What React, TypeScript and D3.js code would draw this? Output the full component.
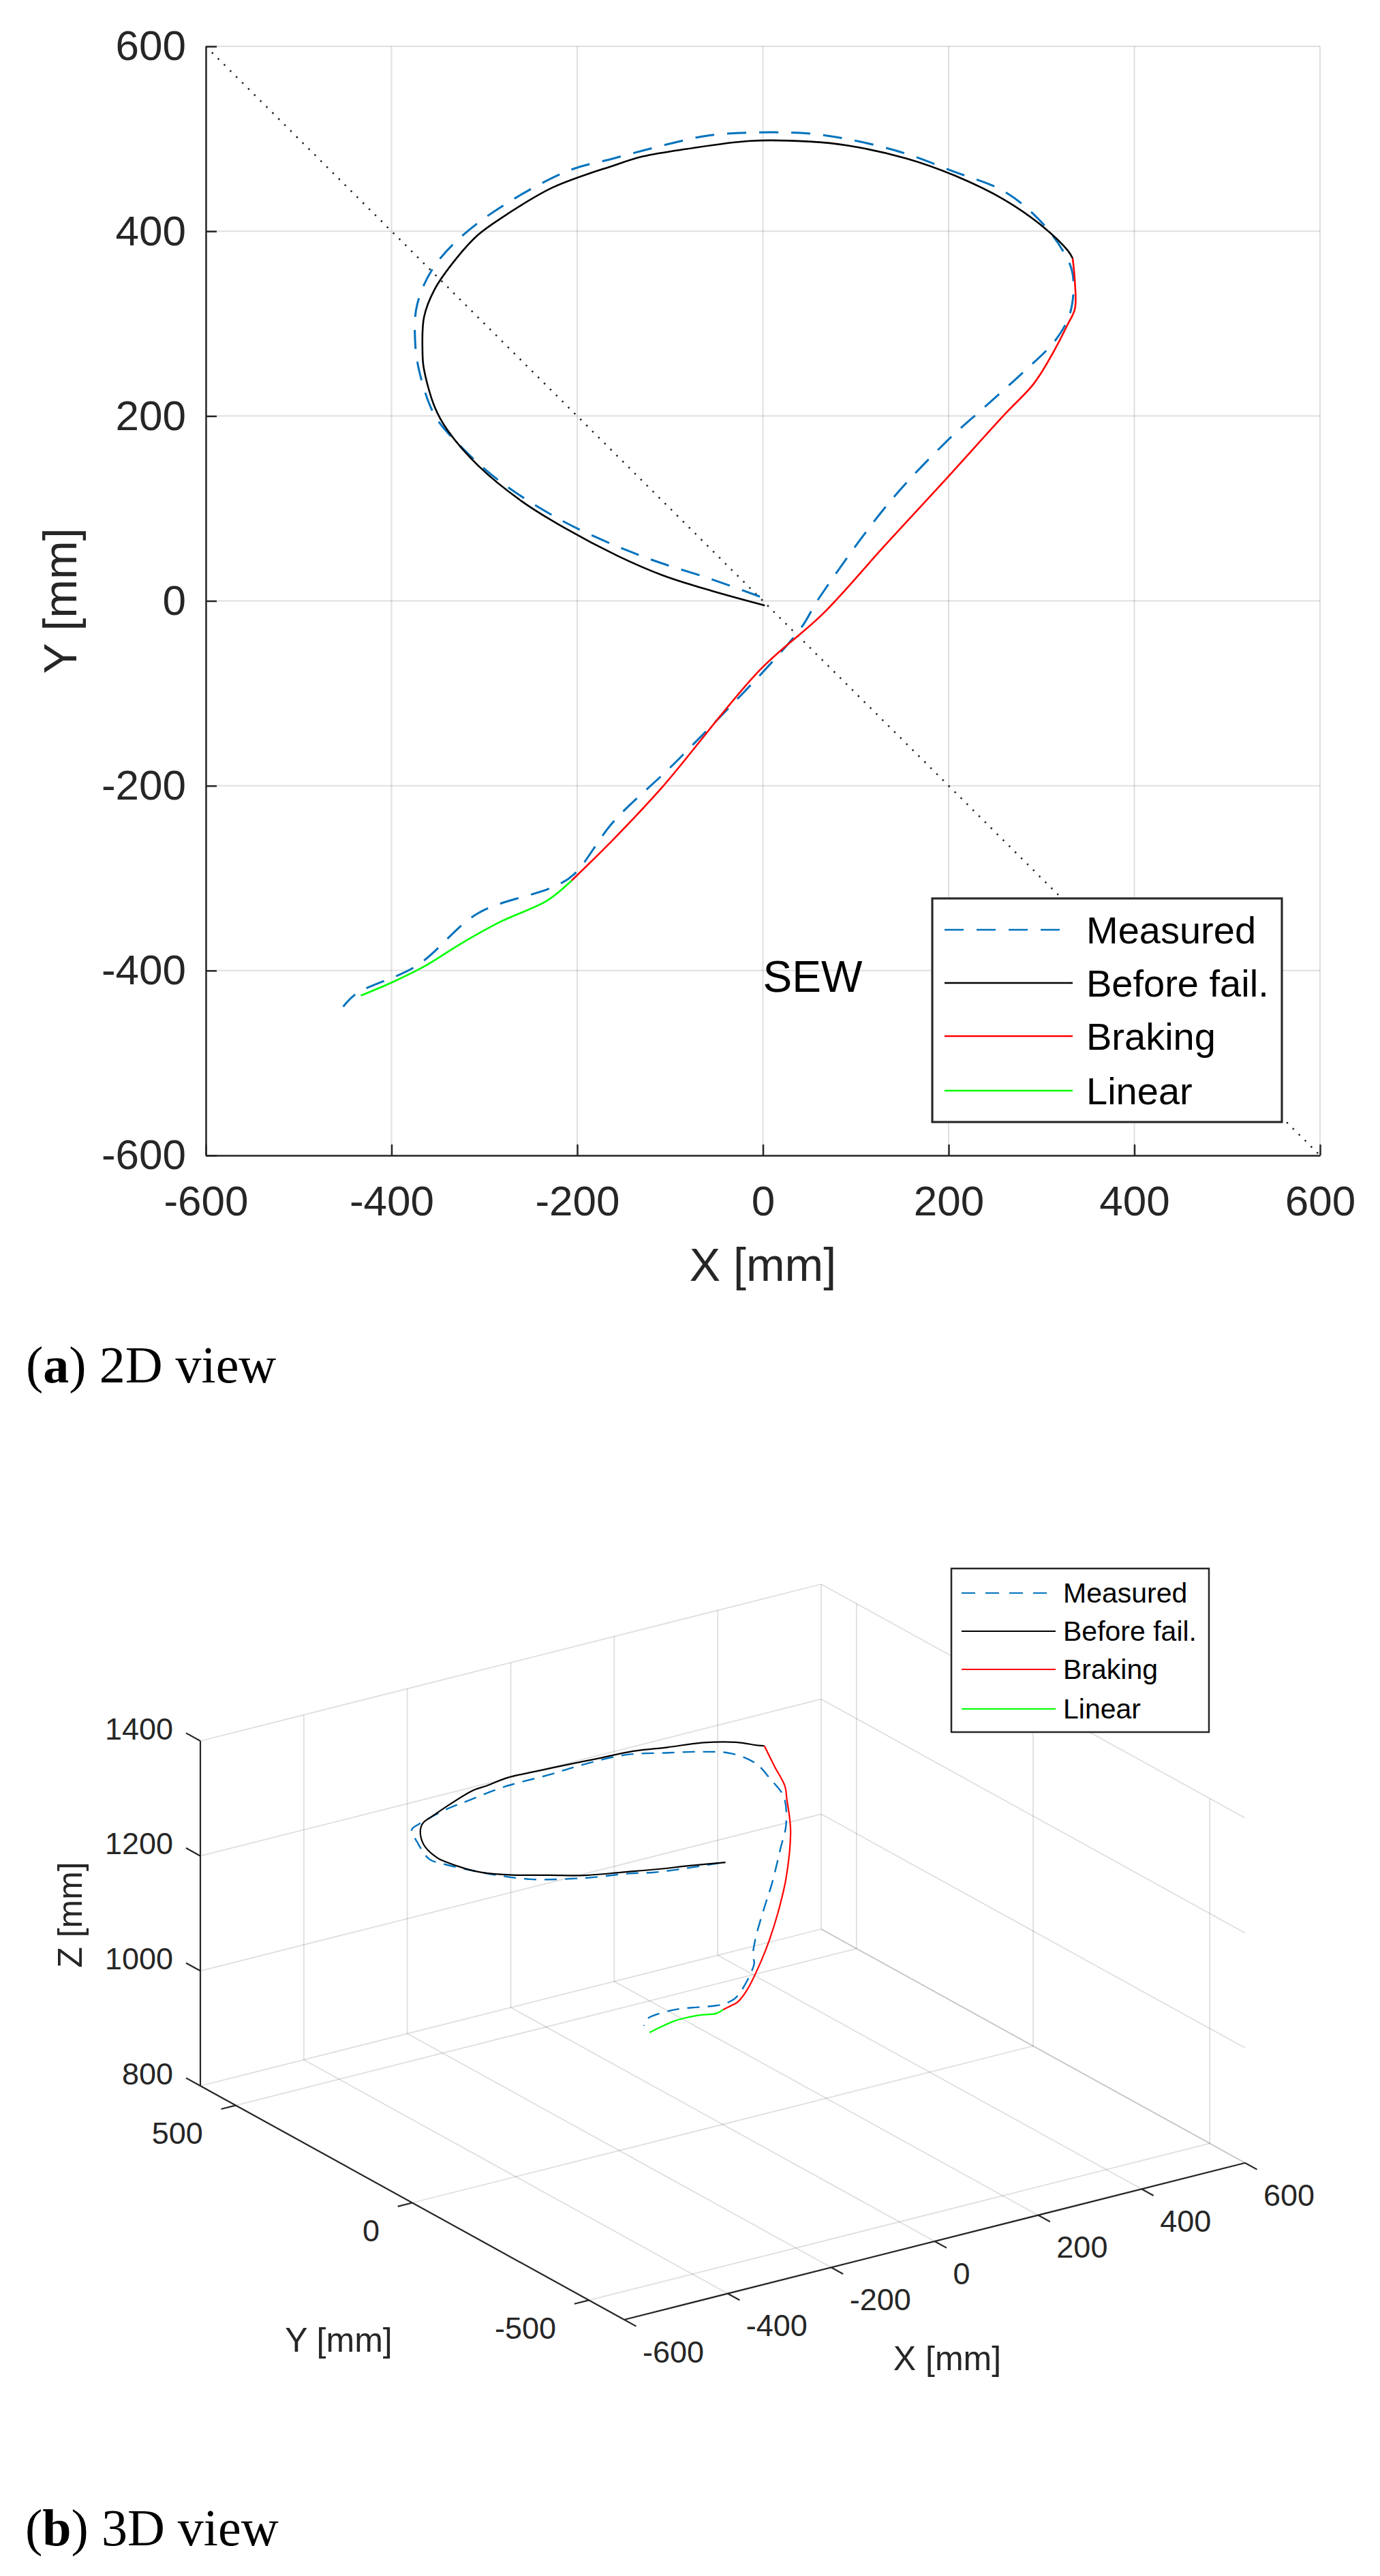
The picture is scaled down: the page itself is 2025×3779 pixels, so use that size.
import React, { useEffect, useRef } from 'react';
import * as d3 from 'd3';

const FONT = 'Liberation Sans, Arial, Helvetica, sans-serif';
const SERIF = 'Liberation Serif, Times New Roman, serif';
const AXIS_COLOR = '#262626';

// trajectories [mm]
// X/Y are shared by the top view and the 3D view, Z is only used in 3D
const measuredX = [-3.3, -55.8, -108.5, -143, -213, -283.4, -330, -353.6, -370, -374.6, -372.5, -353.6, -306.8, -213, -161, -87.7, -55.8, 12.6, 65, 144, 207, 260, 296.9, 323, 333.6, 331, 315, 281, 239, 197, 134, 60, 39, -91.5, -161, -203.6, -227, -306.8, -372.5, -438, -452];
const measuredY = [4.6, 23.6, 40.6, 53.3, 85, 129.5, 171.8, 201, 248, 282, 320, 362.5, 409, 464, 478.7, 497.7, 504, 507, 504, 487, 464, 443, 413, 379, 353.7, 312, 282, 248, 210, 171.8, 104, 2.4, -32, -172, -239, -296, -310, -338, -394.5, -425, -439];
const measuredZ = [1254, 1250, 1249, 1251, 1248, 1247, 1252, 1255, 1253, 1251, 1268, 1270, 1254, 1241, 1239, 1237, 1235, 1234, 1238, 1245, 1242, 1239, 1238, 1226, 1205, 1189, 1154, 1132, 1095, 1072, 1056, 1078, 1082, 1100, 1127, 1155, 1163, 1186, 1216, 1226, 1223];

const beforeX = [2, -55.8, -108.5, -157, -213, -260, -306.8, -339.6, -353.6, -365.3, -366.6, -365, -353.6, -330, -306.8, -283.6, -227, -161, -128.8, -82, -13.6, 49.5, 91.4, 154.5, 207, 260, 302, 328.4, 333.6];
const beforeY = [-5, 11, 27.9, 49, 78.6, 108, 146.5, 184.5, 210, 252, 269, 307, 337, 370.7, 396, 413, 447, 471, 481, 489, 497.7, 497, 492.7, 478.7, 460, 434, 404.6, 379, 370.6];
const beforeZ = [1257, 1259, 1259, 1258, 1255, 1256, 1254, 1253, 1254, 1255, 1255, 1261, 1267, 1267, 1262, 1258, 1254, 1258, 1255, 1256, 1250, 1248, 1248, 1252, 1253, 1258, 1259, 1256, 1257];

const brakingX = [333.6, 336, 336, 328, 312.7, 291.7, 260, 197, 131, 65, -3.3, -108.5, -161, -206];
const brakingY = [370.6, 345, 316, 298.7, 269, 235, 201.4, 131.6, 59.6, -13.6, -74.8, -201.6, -258, -302.6];
const brakingZ = [1257, 1229, 1205, 1189, 1173, 1160, 1101, 1080, 1071, 1074, 1061, 1106, 1130, 1149];

const linearX = [-206, -232, -283.4, -325.5, -362.9, -400, -433];
const linearY = [-302.6, -324, -347.5, -371, -394.5, -413, -427];
const linearZ = [1149, 1156, 1172, 1185, 1196, 1201, 1203];

// dotted SEW line in the top view
const sewX = [-600, 600];
const sewY = [600, -600];

const ticks2D = [-600, -400, -200, 0, 200, 400, 600];
const ticksX3D = [-600, -400, -200, 0, 200, 400, 600];
const ticksY3D = [-500, 0, 500];
const ticksZ3D = [800, 1000, 1200, 1400];

const seriesNames = ['Measured', 'Before fail.', 'Braking', 'Linear'];
const seriesColors = ['#0072BD', '#000000', '#FF0000', '#00FF00'];

const zip = (xs, ys, zs) => xs.map((x, i) => ({ x, y: ys[i], z: zs[i] }));

const series = [
  { name: seriesNames[0], color: seriesColors[0], dashed: true, pts: zip(measuredX, measuredY, measuredZ) },
  { name: seriesNames[1], color: seriesColors[1], dashed: false, pts: zip(beforeX, beforeY, beforeZ) },
  { name: seriesNames[2], color: seriesColors[2], dashed: false, pts: zip(brakingX, brakingY, brakingZ) },
  { name: seriesNames[3], color: seriesColors[3], dashed: false, pts: zip(linearX, linearY, linearZ) },
];

function drawLegend(g, box, rowYs, lx1, lx2, tx, fs, dash, sw) {
  const lg = g.append('g');
  lg.append('rect')
    .attr('x', box.x).attr('y', box.y).attr('width', box.w).attr('height', box.h)
    .attr('fill', '#fff').attr('stroke', AXIS_COLOR).attr('stroke-width', sw + 0.5);
  series.forEach((s, i) => {
    lg.append('line')
      .attr('x1', lx1).attr('x2', lx2).attr('y1', rowYs[i]).attr('y2', rowYs[i])
      .attr('stroke', s.color).attr('stroke-width', sw)
      .attr('stroke-dasharray', s.dashed ? dash : null);
    lg.append('text')
      .attr('x', tx).attr('y', rowYs[i]).attr('dy', '0.35em')
      .attr('font-family', FONT).attr('font-size', fs).attr('fill', '#000')
      .text(s.name);
  });
}

function caption(svg, x, y, letter, rest) {
  const t = svg.append('text').attr('x', x).attr('y', y)
    .attr('font-family', SERIF).attr('font-size', 76).attr('fill', '#000');
  t.append('tspan').text('(');
  t.append('tspan').attr('font-weight', 'bold').text(letter);
  t.append('tspan').text(')');
  t.append('tspan').text(' ' + rest);
}

function draw2D(svg) {
  const x = d3.scaleLinear().domain([-600, 600]).range([302, 1937]);
  const y = d3.scaleLinear().domain([-600, 600]).range([1695, 68]);
  const g = svg.append('g');

  // grid
  const grid = g.append('g').attr('stroke', AXIS_COLOR).attr('stroke-opacity', 0.15).attr('stroke-width', 2);
  grid.selectAll('.gx').data(ticks2D).join('line')
    .attr('x1', d => x(d)).attr('x2', d => x(d)).attr('y1', y(-600)).attr('y2', y(600));
  grid.selectAll('.gy').data(ticks2D).join('line')
    .attr('y1', d => y(d)).attr('y2', d => y(d)).attr('x1', x(-600)).attr('x2', x(600));

  g.append('line')
    .attr('x1', x(sewX[0])).attr('y1', y(sewY[0])).attr('x2', x(sewX[1])).attr('y2', y(sewY[1]))
    .attr('stroke', '#222').attr('stroke-width', 2.5).attr('stroke-dasharray', '2.5 10');

  const line = d3.line().x(d => x(d.x)).y(d => y(d.y)).curve(d3.curveCatmullRom.alpha(0.5));
  series.forEach(s => {
    g.append('path').attr('d', line(s.pts)).attr('fill', 'none')
      .attr('stroke', s.color).attr('stroke-width', s.dashed ? 3 : 2.6)
      .attr('stroke-dasharray', s.dashed ? '28 19' : null);
  });

  const fmt = d => String(d);
  const yAxis = g.append('g').attr('transform', `translate(${x(-600)},0)`)
    .call(d3.axisLeft(y).tickValues(ticks2D).tickFormat(fmt).tickSize(-16).tickSizeOuter(0).tickPadding(29));
  const xAxis = g.append('g').attr('transform', `translate(0,${y(-600)})`)
    .call(d3.axisBottom(x).tickValues(ticks2D).tickFormat(fmt).tickSize(-16).tickSizeOuter(0).tickPadding(44));
  [xAxis, yAxis].forEach(a => {
    a.attr('font-size', 62).attr('font-family', FONT).attr('color', AXIS_COLOR);
    a.selectAll('.domain, .tick line').attr('stroke-width', 2.5);
  });

  g.append('text').attr('x', x(0)).attr('y', 1879).attr('text-anchor', 'middle')
    .attr('font-family', FONT).attr('font-size', 68).attr('fill', AXIS_COLOR).text('X [mm]');
  g.append('text').attr('transform', `translate(112,${y(0)}) rotate(-90)`).attr('text-anchor', 'middle')
    .attr('font-family', FONT).attr('font-size', 68).attr('fill', AXIS_COLOR).text('Y [mm]');

  g.append('text').attr('x', x(0)).attr('y', y(-400)).attr('dy', '0.49em')
    .attr('font-family', FONT).attr('font-size', 64).attr('fill', '#000').text('SEW');

  drawLegend(g, { x: 1368, y: 1318, w: 513, h: 328 }, [1364, 1442, 1520, 1600], 1386, 1574, 1594, 56, '28 19', 2.6);
  caption(svg, 38, 2028, 'a', '2D view');
}

function draw3D(svg) {
  // orthographic projection: screen = O + sx*VX + sy*VY + sz*VZ
  const O = [294, 3060];
  const VX = [911, -230];
  const VY = [622, 343];
  const VZ = [0, -506];
  const sx = d3.scaleLinear().domain([-600, 600]).range([0, 1]);
  const sy = d3.scaleLinear().domain([600, -600]).range([0, 1]);
  const sz = d3.scaleLinear().domain([800, 1400]).range([0, 1]);
  const proj = (px, py, pz) => {
    const a = sx(px), b = sy(py), c = sz(pz);
    return [O[0] + a * VX[0] + b * VY[0] + c * VZ[0], O[1] + a * VX[1] + b * VY[1] + c * VZ[1]];
  };
  const g = svg.append('g');
  const seg = (p, q, sel) => sel.append('line').attr('x1', p[0]).attr('y1', p[1]).attr('x2', q[0]).attr('y2', q[1]);

  const grid = g.append('g').attr('stroke', AXIS_COLOR).attr('stroke-opacity', 0.15).attr('stroke-width', 1.8);
  ticksX3D.forEach(t => {
    seg(proj(t, 600, 800), proj(t, -600, 800), grid);
    seg(proj(t, 600, 800), proj(t, 600, 1400), grid);
  });
  ticksY3D.forEach(t => {
    seg(proj(-600, t, 800), proj(600, t, 800), grid);
    seg(proj(600, t, 800), proj(600, t, 1400), grid);
  });
  ticksZ3D.forEach(t => {
    seg(proj(-600, 600, t), proj(600, 600, t), grid);
    seg(proj(600, 600, t), proj(600, -600, t), grid);
  });

  // axes
  const ax = g.append('g').attr('stroke', AXIS_COLOR).attr('stroke-width', 2.2);
  seg(proj(-600, 600, 800), proj(-600, 600, 1400), ax);
  seg(proj(-600, 600, 800), proj(-600, -600, 800), ax);
  seg(proj(-600, -600, 800), proj(600, -600, 800), ax);

  const txt = (px, py, anchor, label) => g.append('text').attr('x', px).attr('y', py).attr('dy', '0.35em')
    .attr('text-anchor', anchor).attr('font-family', FONT).attr('font-size', 45).attr('fill', AXIS_COLOR).text(label);

  const zDir = [-0.8757, -0.4829], yDir = [-0.9696, 0.2448], xDir = [0.8757, 0.4829];
  ticksZ3D.forEach(t => {
    const p = proj(-600, 600, t);
    seg(p, [p[0] + zDir[0] * 24, p[1] + zDir[1] * 24], ax);
    txt(p[0] - 40, p[1] - 18, 'end', String(t));
  });
  ticksY3D.forEach(t => {
    const p = proj(-600, t, 800);
    seg(p, [p[0] + yDir[0] * 22, p[1] + yDir[1] * 22], ax);
    txt(p[0] - 48, p[1] + 41, 'end', String(t));
  });
  ticksX3D.forEach(t => {
    const p = proj(t, -600, 800);
    seg(p, [p[0] + xDir[0] * 20, p[1] + xDir[1] * 20], ax);
    txt(p[0] + 27, p[1] + 47, 'start', String(t));
  });

  g.append('text').attr('transform', `translate(120,2809) rotate(-90)`).attr('text-anchor', 'middle')
    .attr('font-family', FONT).attr('font-size', 50).attr('fill', AXIS_COLOR).text('Z [mm]');
  g.append('text').attr('x', 497).attr('y', 3450).attr('text-anchor', 'middle')
    .attr('font-family', FONT).attr('font-size', 50).attr('fill', AXIS_COLOR).text('Y [mm]');
  g.append('text').attr('x', 1390).attr('y', 3477).attr('text-anchor', 'middle')
    .attr('font-family', FONT).attr('font-size', 50).attr('fill', AXIS_COLOR).text('X [mm]');

  const line = d3.line().x(d => proj(d.x, d.y, d.z)[0]).y(d => proj(d.x, d.y, d.z)[1])
    .curve(d3.curveCatmullRom.alpha(0.5));
  series.forEach(s => {
    g.append('path').attr('d', line(s.pts)).attr('fill', 'none')
      .attr('stroke', s.color).attr('stroke-width', s.dashed ? 2.4 : 2.2)
      .attr('stroke-dasharray', s.dashed ? '18 12' : null);
  });

  drawLegend(g, { x: 1396, y: 2301, w: 378, h: 240 }, [2337, 2393, 2449, 2507], 1411, 1549, 1560, 41, '20 15', 2);
  caption(svg, 37, 3734, 'b', '3D view');
}

export default function App() {
  const ref = useRef(null);
  useEffect(() => {
    const svg = d3.select(ref.current);
    svg.selectAll('*').remove();
    draw2D(svg);
    draw3D(svg);
  }, []);
  return (
    <>
      <style>{'body{margin:0}'}</style>
      <svg ref={ref} width={2025} height={3779} style={{ display: 'block', background: '#fff' }} />
    </>
  );
}
